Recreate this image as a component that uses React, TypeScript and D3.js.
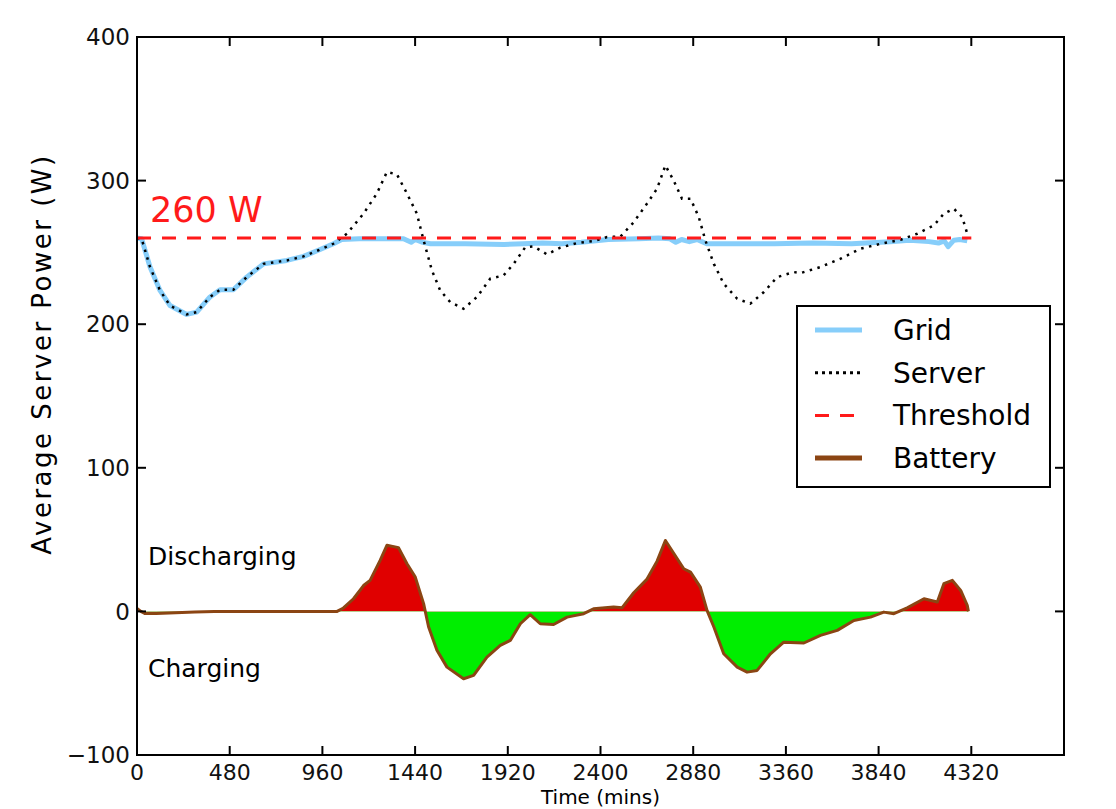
import React, { useEffect, useRef } from "react";
import * as d3 from "d3";

// values (time in mins, power in W)
const serverTime = [0, 24, 67, 119, 171, 257, 309, 378, 430, 499, 568, 655, 776, 862, 948, 1017, 1087, 1173, 1242, 1294, 1346, 1398, 1449, 1484, 1527, 1570, 1622, 1691, 1760, 1829, 1898, 1950, 2011, 2054, 2123, 2192, 2278, 2364, 2434, 2503, 2572, 2641, 2693, 2736, 2779, 2822, 2866, 2909, 2943, 2987, 3038, 3108, 3176, 3246, 3315, 3401, 3436, 3539, 3643, 3747, 3850, 3954, 4040, 4126, 4178, 4230, 4273, 4299];
const serverPower = [260, 259.5, 240, 223.5, 213, 206.8, 208.4, 219, 224, 224, 232.8, 242, 244.4, 247.2, 252, 256, 263, 277, 291, 306, 304.3, 291, 277, 258.4, 237.5, 223.5, 215.4, 210.8, 218.9, 231.7, 234, 242, 253.7, 254.2, 248.6, 253.3, 256.5, 257.9, 260.7, 261, 271, 284, 294.4, 310.6, 300, 287.4, 287.4, 274.6, 258.4, 242, 228.2, 217.7, 214.3, 222.4, 232.8, 236.3, 235.6, 239.8, 245.6, 252.6, 256, 258.8, 263, 268.8, 277, 280.4, 274.6, 263];

const gridTime = [0, 24, 67, 119, 171, 257, 309, 378, 430, 499, 568, 655, 776, 862, 948, 1017, 1060, 1150, 1250, 1380, 1420, 1440, 1480, 1520, 1700, 1900, 2000, 2100, 2200, 2300, 2440, 2600, 2700, 2760, 2790, 2820, 2860, 2900, 2950, 3100, 3300, 3500, 3700, 3900, 4000, 4100, 4150, 4180, 4200, 4230, 4260, 4299];
const gridPower = [260, 259.5, 240, 223.5, 213, 206.8, 208.4, 219, 224, 224, 232.8, 242, 244.4, 247.2, 252, 256, 259, 259.5, 259.5, 259.5, 257, 259, 257, 256, 256, 255.5, 256, 256.5, 256, 257, 259, 259.5, 260, 259.5, 257, 259, 257.5, 259, 256, 256, 256, 256.5, 256, 257.5, 258.5, 257.5, 256.5, 258, 254, 258.5, 259, 258];

const batteryTime = [0, 20, 40, 100, 200, 300, 400, 600, 800, 1036, 1069, 1121, 1173, 1207, 1259, 1294, 1354, 1398, 1441, 1484, 1510, 1553, 1605, 1691, 1743, 1812, 1881, 1933, 1985, 2036, 2088, 2157, 2227, 2313, 2364, 2468, 2511, 2572, 2641, 2693, 2736, 2779, 2831, 2866, 2917, 2952, 2987, 3038, 3108, 3159, 3211, 3280, 3349, 3453, 3539, 3626, 3712, 3798, 3867, 3919, 3988, 4075, 4144, 4178, 4222, 4265, 4299, 4305];
const batteryPower = [2, 0, -1.5, -1.5, -1, -0.5, 0, 0, 0, 0, 2.4, 8.8, 18, 21.6, 35.5, 46, 44.4, 33.2, 23.9, 5.4, -10.9, -27, -38.8, -46.9, -44.6, -31.8, -23.7, -20.2, -8.6, -2.3, -8.6, -9.1, -4, -1.6, 1.8, 3, 2.5, 13, 22.5, 35, 49.4, 40.5, 29.7, 27.4, 16.9, 0.5, -10.9, -29.5, -38.8, -42.3, -41.1, -29.5, -21.4, -22, -16.7, -13.2, -6.3, -4, -0.5, -1.6, 2.5, 8.8, 6.5, 19.3, 21.6, 14.6, 4.2, 0];

const threshold = 260;
const xTicks = [0, 480, 960, 1440, 1920, 2400, 2880, 3360, 3840, 4320];
const yTicks = [-100, 0, 100, 200, 300, 400];
const legendLabels = ["Grid", "Server", "Threshold", "Battery"];

const font = "DejaVu Sans";

const App = () => {
  const ref = useRef(null);

  useEffect(() => {
    const root = d3.select(ref.current);
    root.selectAll("*").remove();

    const margin = { top: 37, right: 52, bottom: 54, left: 137 };
    const width = 1116 - margin.left - margin.right;
    const height = 809 - margin.top - margin.bottom;

    const svg = root
      .append("g")
      .attr("transform", `translate(${margin.left},${margin.top})`);

    const x = d3.scaleLinear().domain([0, 4800]).range([0, width]);
    const y = d3.scaleLinear().domain([-100, 400]).range([height, 0]);

    const defs = root.append("defs");
    defs.append("clipPath").attr("id", "above")
      .append("rect").attr("x", 0).attr("y", 0).attr("width", width).attr("height", y(0));
    defs.append("clipPath").attr("id", "below")
      .append("rect").attr("x", 0).attr("y", y(0)).attr("width", width).attr("height", height - y(0));

    const grid = gridTime.map((t, i) => [t, gridPower[i]]);
    const server = serverTime.map((t, i) => [t, serverPower[i]]);
    const battery = batteryTime.map((t, i) => [t, batteryPower[i]]);

    const line = d3.line().x((d) => x(d[0])).y((d) => y(d[1]));
    const area = d3.area().x((d) => x(d[0])).y0(y(0)).y1((d) => y(d[1]));

    // grid
    svg.append("path").datum(grid)
      .attr("fill", "none").attr("stroke", "#87cefa").attr("stroke-width", 5)
      .attr("stroke-linejoin", "round").attr("d", line);

    // server
    svg.append("path").datum(server)
      .attr("fill", "none").attr("stroke", "#000").attr("stroke-width", 2.5)
      .attr("stroke-dasharray", "2.5,5.5").attr("d", line);

    // threshold
    svg.append("line")
      .attr("x1", x(0)).attr("x2", x(4320))
      .attr("y1", y(threshold)).attr("y2", y(threshold))
      .attr("stroke", "#ff1a1a").attr("stroke-width", 3)
      .attr("stroke-dasharray", "14,11");

    // battery fills
    svg.append("path").datum(battery)
      .attr("fill", "#e00000").attr("clip-path", "url(#above)").attr("d", area);
    svg.append("path").datum(battery)
      .attr("fill", "#00ee00").attr("clip-path", "url(#below)").attr("d", area);
    svg.append("path").datum(battery)
      .attr("fill", "none").attr("stroke", "#8b4513").attr("stroke-width", 3)
      .attr("stroke-linejoin", "round").attr("d", line);

    // frame
    svg.append("rect")
      .attr("width", width).attr("height", height)
      .attr("fill", "none").attr("stroke", "#000").attr("stroke-width", 2);

    const tickLen = 9;
    xTicks.forEach((t) => {
      svg.append("line").attr("x1", x(t)).attr("x2", x(t))
        .attr("y1", height).attr("y2", height - tickLen)
        .attr("stroke", "#000").attr("stroke-width", 2);
      svg.append("line").attr("x1", x(t)).attr("x2", x(t))
        .attr("y1", 0).attr("y2", tickLen)
        .attr("stroke", "#000").attr("stroke-width", 2);
      svg.append("text")
        .attr("x", x(t)).attr("y", height + 25)
        .attr("text-anchor", "middle")
        .style("font-family", font).style("font-size", "22px").attr("fill", "#111")
        .text(t);
    });
    yTicks.forEach((v) => {
      svg.append("line").attr("x1", 0).attr("x2", tickLen)
        .attr("y1", y(v)).attr("y2", y(v))
        .attr("stroke", "#000").attr("stroke-width", 2);
      svg.append("line").attr("x1", width).attr("x2", width - tickLen)
        .attr("y1", y(v)).attr("y2", y(v))
        .attr("stroke", "#000").attr("stroke-width", 2);
      svg.append("text")
        .attr("x", -7).attr("y", y(v))
        .attr("dy", "0.36em")
        .attr("text-anchor", "end")
        .style("font-family", font).style("font-size", "23px").attr("fill", "#111")
        .text(v < 0 ? "\u2212" + Math.abs(v) : v);
    });

    // axis titles
    svg.append("text")
      .attr("x", width / 2).attr("y", height + 49)
      .attr("text-anchor", "middle")
      .style("font-family", font).style("font-size", "20px")
      .text("Time (mins)");
    svg.append("text")
      .attr("transform", "rotate(-90)")
      .attr("x", -(354 - margin.top)).attr("y", -86)
      .attr("text-anchor", "middle")
      .style("font-family", font).style("font-size", "26px")
      .style("letter-spacing", "2.5px")
      .text("Average Server Power (W)");

    // annotations
    svg.append("text")
      .attr("x", 13).attr("y", 185)
      .style("font-family", font).style("font-size", "35px").attr("fill", "#ff1a1a")
      .text("260 W");
    svg.append("text")
      .attr("x", 11).attr("y", 528)
      .style("font-family", font).style("font-size", "25px")
      .text("Discharging");
    svg.append("text")
      .attr("x", 11).attr("y", 640)
      .style("font-family", font).style("font-size", "25px")
      .text("Charging");

    // legend
    const legend = svg.append("g").attr("transform", `translate(${797 - margin.left},${306 - margin.top})`);
    legend.append("rect")
      .attr("width", 253).attr("height", 181)
      .attr("fill", "#fff").attr("stroke", "#000").attr("stroke-width", 2);
    const styles = [
      { stroke: "#87cefa", width: 5, dash: null },
      { stroke: "#000", width: 3, dash: "3,4" },
      { stroke: "#ff1a1a", width: 3, dash: "14,11" },
      { stroke: "#8b4513", width: 5, dash: null },
    ];
    legendLabels.forEach((label, i) => {
      const yy = 24 + i * 42.7;
      legend.append("line")
        .attr("x1", 18).attr("x2", 65).attr("y1", yy).attr("y2", yy)
        .attr("stroke", styles[i].stroke).attr("stroke-width", styles[i].width)
        .attr("stroke-dasharray", styles[i].dash);
      legend.append("text")
        .attr("x", 96).attr("y", yy).attr("dy", "0.36em")
        .style("font-family", font).style("font-size", "28px")
        .text(label);
    });
  }, []);

  return (
    <svg
      ref={ref}
      width={1116}
      height={809}
      style={{ position: "absolute", left: 0, top: 0, background: "#fff" }}
    />
  );
};

export default App;
